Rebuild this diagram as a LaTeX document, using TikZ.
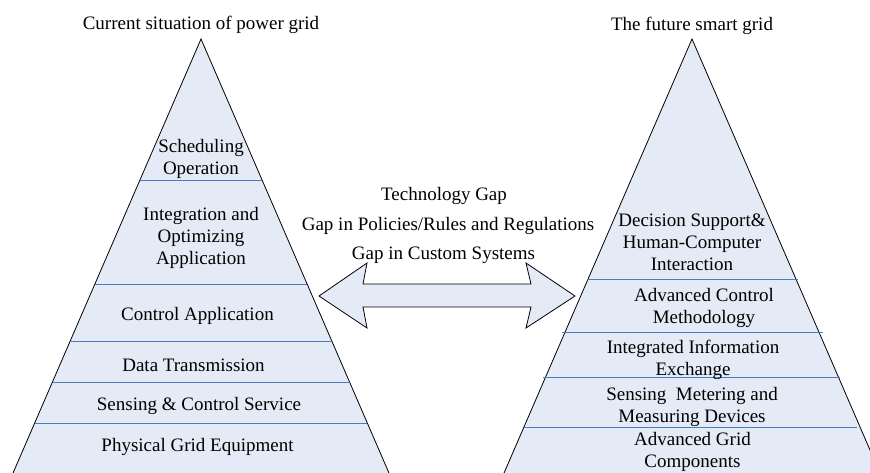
\documentclass[tikz,border=0pt]{standalone}
\usepackage{fontspec}
\setmainfont{Liberation Serif}
\definecolor{layerfill}{HTML}{E4EBF6}
\definecolor{layerline}{HTML}{4A7EBB}
\begin{document}
\begin{tikzpicture}[x=1pt,y=-1pt,
  txt/.style={font=\fontsize{19}{22}\selectfont, align=center, inner sep=0pt, yshift=-2.5pt},
  outline/.style={draw=black, line width=0.8pt, line join=miter},
  layer/.style={draw=layerline, line width=1pt}]
\useasboundingbox (0,0) rectangle (870,472);
\clip (0,0) rectangle (870,472);
% left pyramid
\coordinate (LA) at (201,39);
\coordinate (LL) at (10,480);
\coordinate (LR) at (392,480);
\fill[layerfill] (LL) -- (LA) -- (LR) -- cycle;
\draw[outline] (LL) -- (LA) -- (LR);
\draw[layer] (140,180) -- (262,180);
\draw[layer] (95,284) -- (307,284);
\draw[layer] (70,341) -- (332,341);
\draw[layer] (52.5,382) -- (349.5,382);
\draw[layer] (35,423) -- (367,423);
% right pyramid
\coordinate (RA) at (692,39);
\coordinate (RL) at (501,480);
\coordinate (RR) at (883,480);
\fill[layerfill] (RL) -- (RA) -- (RR) -- cycle;
\draw[outline] (RL) -- (RA) -- (RR);
\draw[layer] (587,279) -- (798,279);
\draw[layer] (562,332) -- (823,332);
\draw[layer] (543,377) -- (840,377);
\draw[layer] (524,427) -- (857,427);
% double arrow
\draw[outline, fill=layerfill] (319,296) -- (367,263) -- (363,284) -- (531,284) -- (526,263)
  -- (575,296) -- (526,328) -- (531,307) -- (363,307) -- (367,328) -- cycle;
% titles
\node[txt] (ltitle) at (201,22) {Current situation of power grid};
\node[txt] (rtitle) at (692,23) {The future smart grid};
% left texts
\node[txt] (sched) at (201,156) {Scheduling\\Operation};
\node[txt] (integ) at (201,235) {Integration and\\Optimizing\\Application};
\node[txt] (ctrl) at (197.5,313) {Control Application};
\node[txt] (data) at (193.5,363) {Data Transmission};
\node[txt] (sens) at (199,403) {Sensing \& Control Service};
\node[txt] (phys) at (197.5,444) {Physical Grid Equipment};
% right texts
\node[txt] (dec) at (692,240) {Decision Support\&\\Human-Computer\\Interaction};
\node[txt] (adv) at (704,305) {Advanced Control\\Methodology};
\node[txt] (iie) at (693,357.5) {Integrated Information\\Exchange};
\node[txt] (smd) at (692,404) {Sensing\ \ Metering and\\Measuring Devices};
\node[txt] (agc) at (692.5,449.5) {Advanced Grid\\Components};
% middle texts
\node[txt] (g1) at (444,193) {Technology Gap};
\node[txt] (g2) at (448,223) {Gap in Policies/Rules and Regulations};
\node[txt] (g3) at (443.5,253) {Gap in Custom Systems};
\end{tikzpicture}
\end{document}
